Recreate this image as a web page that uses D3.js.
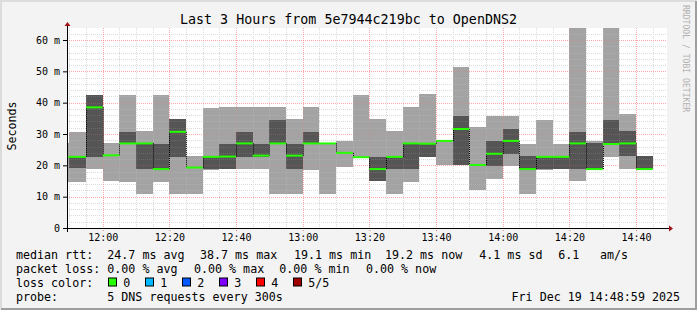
<!DOCTYPE html>
<html>
<head>
<meta charset="utf-8">
<script src="https://cdn.jsdelivr.net/npm/d3@7"></script>
<style>
  body { margin: 0; background: #f3f3f3; }
  svg { display: block; font-family: "DejaVu Sans Mono", monospace; }
</style>
</head>
<body>
<script>
// smokeping style chart: 5 pings per 300s step
const day = '2025-12-19'
const chartStart = '11:49:17'
const chartEnd = '14:49:17'

const barEnd = ['11:50','11:55','12:00','12:05','12:10','12:15','12:20','12:25','12:30','12:35',
  '12:40','12:45','12:50','12:55','13:00','13:05','13:10','13:15','13:20','13:25',
  '13:30','13:35','13:40','13:45','13:50','13:55','14:00','14:05','14:10','14:15',
  '14:20','14:25','14:30','14:35','14:40','14:45']
const pingMin = [14.8,14.8,18.8,15.1,14.8,10.9,14.8,10.9,10.9,18.5,
  18.8,18.8,18.8,10.9,10.9,18.5,10.9,19.6,22.6,15.1,
  10.9,14.8,22.6,20.1,20.1,12.1,15.6,19.8,10.9,18.5,
  18.8,15.1,18.8,22.6,18.8,18.8]
const ping2 = [22.7,19.0,22.8,23.2,27.0,18.8,18.8,22.8,19.3,18.8,
  18.8,22.8,22.8,26.8,18.8,26.8,27.0,24.0,22.6,15.1,
  18.8,18.8,22.8,27.8,20.1,20.1,19.8,23.7,18.8,18.8,
  18.8,18.8,18.8,26.8,23.0,18.8]
const median = [22.7,22.7,38.5,23.2,27.0,27.0,18.8,30.7,19.3,22.7,
  22.8,27.0,23.1,27.0,23.1,27.0,27.0,24.0,22.6,18.8,
  22.7,27.0,26.9,27.8,31.6,20.1,23.7,27.8,18.8,22.7,
  22.7,27.0,18.8,26.8,27.0,18.8]
const ping4 = [22.7,22.7,42.4,23.2,30.6,27.0,26.8,34.7,19.3,22.8,
  26.8,30.6,26.8,34.5,26.8,30.6,27.0,24.0,22.6,22.8,
  22.8,27.0,26.9,27.8,35.9,20.1,27.8,31.6,23.0,22.8,
  22.8,30.6,27.0,34.5,31.0,23.0]
const pingMax = [27.2,30.6,42.4,27.2,42.4,31.0,42.4,34.7,23.0,38.4,
  38.7,38.7,38.7,38.7,34.8,38.7,27.0,27.9,42.4,34.8,
  31.0,38.7,42.8,28.1,51.5,32.2,35.9,35.9,26.8,34.5,
  26.8,70.0,27.9,72.0,36.4,23.0]

const yTicks = [0, 10, 20, 30, 40, 50, 60]
const yTickLabels = ['0', '10 m', '20 m', '30 m', '40 m', '50 m', '60 m']
const timeTicks = ['12:00','12:20','12:40','13:00','13:20','13:40','14:00','14:20','14:40']

const lossLabels = ['0', '1', '2', '3', '4', '5/5']
const lossColors = ['#26ff00', '#00b8ff', '#0059ff', '#7e00ff', '#ff0000', '#a10000']

const rttStats = ['24.7 ms avg', '38.7 ms max', '19.1 ms min', '19.2 ms now', '4.1 ms sd', '6.1', 'am/s']
const lossStats = ['0.00 % avg', '0.00 % max', '0.00 % min', '0.00 % now']

const width = 697
const height = 310
const plot = {left: 67, right: 667, top: 28, bottom: 228}

const parseTime = d3.timeParse('%Y-%m-%d %H:%M:%S')
const parseHM = s => parseTime(day + ' ' + s + ':00')

const x = d3.scaleTime()
  .domain([parseTime(day + ' ' + chartStart), parseTime(day + ' ' + chartEnd)])
  .range([plot.left, plot.right])
const y = d3.scaleLinear().domain([0, 63.83]).range([plot.bottom, plot.top])

const bars = barEnd.map((e, i) => {
  const end = parseHM(e)
  return {start: new Date(end - 300000), end: end,
    p1: pingMin[i], p2: ping2[i], p3: median[i], p4: ping4[i], p5: pingMax[i]}
})

const svg = d3.select('body').append('svg').attr('width', width).attr('height', height)

svg.append('rect').attr('width', width).attr('height', height).attr('fill', '#f3f3f3')
// frame
svg.append('path').attr('d', 'M1,309V1H696').attr('fill', 'none').attr('stroke', '#dcdcdc').attr('stroke-width', 2)
svg.append('path').attr('d', 'M1,309H696V1').attr('fill', 'none').attr('stroke', '#9e9e9e').attr('stroke-width', 2)

svg.append('rect').attr('x', plot.left).attr('y', plot.top)
  .attr('width', plot.right - plot.left).attr('height', plot.bottom - plot.top).attr('fill', '#fff')

svg.append('clipPath').attr('id', 'clip').append('rect')
  .attr('x', plot.left).attr('y', plot.top)
  .attr('width', plot.right - plot.left).attr('height', plot.bottom - plot.top)

const minorY = d3.range(2, 64, 2).filter(v => v % 10 !== 0)
const minorX = d3.timeMinute.every(5).range(x.domain()[0], x.domain()[1]).filter(d => d.getMinutes() % 20 !== 0)
const majorX = timeTicks.map(parseHM)
const majorY = yTicks.filter(v => v > 0)

function drawGrid(g, minorColor, majorColor) {
  g.selectAll('.hmin').data(minorY).enter().append('line')
    .attr('x1', plot.left).attr('x2', plot.right)
    .attr('y1', d => Math.round(y(d)) + 0.5).attr('y2', d => Math.round(y(d)) + 0.5)
    .attr('stroke', minorColor).attr('stroke-dasharray', '1,1')
  g.selectAll('.vmin').data(minorX).enter().append('line')
    .attr('y1', plot.top).attr('y2', plot.bottom)
    .attr('x1', d => Math.round(x(d)) + 0.5).attr('x2', d => Math.round(x(d)) + 0.5)
    .attr('stroke', minorColor).attr('stroke-dasharray', '1,1')
  g.selectAll('.hmaj').data(majorY).enter().append('line')
    .attr('x1', plot.left).attr('x2', plot.right)
    .attr('y1', d => Math.round(y(d)) + 0.5).attr('y2', d => Math.round(y(d)) + 0.5)
    .attr('stroke', majorColor).attr('stroke-dasharray', '1,1')
  g.selectAll('.vmaj').data(majorX).enter().append('line')
    .attr('y1', plot.top).attr('y2', plot.bottom)
    .attr('x1', d => Math.round(x(d)) + 0.5).attr('x2', d => Math.round(x(d)) + 0.5)
    .attr('stroke', majorColor).attr('stroke-dasharray', '1,1')
}

drawGrid(svg.append('g'), '#d6d6d6', 'rgba(255,120,120,0.5)')

const chartGroup = svg.append('g').attr('clip-path', 'url(#clip)')

// outer smoke: min..max
chartGroup.selectAll('rect.outer').data(bars).enter().append('rect')
  .attr('x', d => x(d.start)).attr('width', d => x(d.end) - x(d.start))
  .attr('y', d => y(d.p5)).attr('height', d => y(d.p1) - y(d.p5))
  .attr('fill', '#a3a3a3').attr('shape-rendering', 'crispEdges')
// inner smoke: ping2..ping4
chartGroup.selectAll('rect.inner').data(bars).enter().append('rect')
  .attr('x', d => x(d.start)).attr('width', d => x(d.end) - x(d.start))
  .attr('y', d => y(d.p4)).attr('height', d => y(d.p2) - y(d.p4))
  .attr('fill', '#555').attr('shape-rendering', 'crispEdges')

drawGrid(chartGroup.append('g'), 'rgba(255,255,255,0.12)', 'rgba(255,110,110,0.25)')

// median steps
chartGroup.selectAll('line.step').data(bars.slice(1)).enter().append('line')
  .attr('x1', d => Math.round(x(d.start)) + 0.5).attr('x2', d => Math.round(x(d.start)) + 0.5)
  .attr('y1', (d, i) => y(bars[i].p3)).attr('y2', d => y(d.p3))
  .attr('stroke', '#000').attr('stroke-dasharray', '1,1')
chartGroup.selectAll('line.med').data(bars).enter().append('line')
  .attr('x1', d => x(d.start)).attr('x2', d => x(d.end))
  .attr('y1', d => y(d.p3)).attr('y2', d => y(d.p3))
  .attr('stroke', lossColors[0]).attr('stroke-width', 2)

// axes
const yAxis = d3.axisLeft(y).tickValues(yTicks).tickFormat((d, i) => yTickLabels[i])
  .tickSize(4).tickPadding(3)
const yg = svg.append('g').attr('transform', 'translate(' + plot.left + ',0)').call(yAxis)
yg.select('.domain').remove()
yg.selectAll('text').attr('font-size', 10).attr('font-family', 'DejaVu Sans Mono').attr('fill', '#000')
yg.selectAll('line').attr('stroke', '#000')

const xAxis = d3.axisBottom(x).tickValues(majorX).tickFormat(d3.timeFormat('%H:%M'))
  .tickSize(3).tickPadding(3)
const xg = svg.append('g').attr('transform', 'translate(0,' + plot.bottom + ')').call(xAxis)
xg.select('.domain').remove()
xg.selectAll('text').attr('font-size', 10).attr('font-family', 'DejaVu Sans Mono').attr('fill', '#000')
xg.selectAll('line').attr('stroke', '#f08080').attr('stroke-dasharray', '1,1')

svg.append('line').attr('x1', plot.left - 4).attr('x2', plot.right + 4)
  .attr('y1', plot.bottom + 0.5).attr('y2', plot.bottom + 0.5).attr('stroke', '#000')
svg.append('line').attr('x1', plot.left + 0.5).attr('x2', plot.left + 0.5)
  .attr('y1', plot.bottom + 4).attr('y2', plot.top - 4).attr('stroke', '#000')
svg.append('path').attr('d', 'M' + (plot.left - 2.5) + ',' + (plot.top - 2) + 'L' + (plot.left + 0.5) + ',' + (plot.top - 6) + 'L' + (plot.left + 3.5) + ',' + (plot.top - 2) + 'Z')
  .attr('fill', '#a01010')
svg.append('path').attr('d', 'M' + (plot.right + 2) + ',' + (plot.bottom - 2.5) + 'L' + (plot.right + 6) + ',' + (plot.bottom + 0.5) + 'L' + (plot.right + 2) + ',' + (plot.bottom + 3.5) + 'Z')
  .attr('fill', '#a01010')

// texts
svg.append('text').attr('x', 348.5).attr('y', 23.5).attr('text-anchor', 'middle')
  .attr('font-size', 13.33).text('Last 3 Hours from 5e7944c219bc to OpenDNS2')
svg.append('text').attr('transform', 'translate(15.5,126) rotate(-90)').attr('text-anchor', 'middle')
  .attr('font-size', 11.67).text('Seconds')
svg.append('text').attr('transform', 'translate(683,5) rotate(90)')
  .attr('font-size', 8.1).attr('fill', '#b0b0b0').text('RRDTOOL / TOBI OETIKER')

const legend = svg.append('g').attr('font-size', 11.67).attr('fill', '#000')
const rttX = [107.3, 200, 294, 385, 479.3, 558.3, 600]
const lossX = [107.3, 194, 279.3, 366]
legend.append('text').attr('x', 16).attr('y', 258.5).text('median rtt:')
legend.selectAll('.rtt').data(rttStats).enter().append('text')
  .attr('x', (d, i) => rttX[i]).attr('y', 258.5).text(d => d)
legend.append('text').attr('x', 16).attr('y', 272.5).text('packet loss:')
legend.selectAll('.loss').data(lossStats).enter().append('text')
  .attr('x', (d, i) => lossX[i]).attr('y', 272.5).text(d => d)
legend.append('text').attr('x', 16).attr('y', 286.5).text('loss color:')
const boxX = [108.5, 145.5, 182.5, 219.5, 256.5, 293.5]
legend.selectAll('.box').data(lossColors).enter().append('rect')
  .attr('x', (d, i) => boxX[i]).attr('y', 278).attr('width', 8).attr('height', 8)
  .attr('fill', d => d).attr('stroke', '#000')
legend.selectAll('.boxlabel').data(lossLabels).enter().append('text')
  .attr('x', (d, i) => boxX[i] + 14.8).attr('y', 286.5).text(d => d)
legend.append('text').attr('x', 16).attr('y', 300.5).text('probe:')
legend.append('text').attr('x', 107.3).attr('y', 300.5).text('5 DNS requests every 300s')
legend.append('text').attr('x', 680).attr('y', 300.5).attr('text-anchor', 'end').text('Fri Dec 19 14:48:59 2025')
</script>
</body>
</html>
